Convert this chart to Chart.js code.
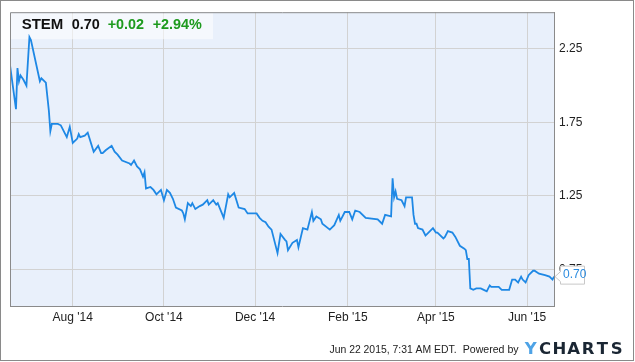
<!DOCTYPE html>
<html><head><meta charset="utf-8">
<style>html,body{margin:0;padding:0;background:#fff;overflow:hidden}canvas{display:block}</style>
<script src="https://cdn.jsdelivr.net/npm/chart.js@4.4.1/dist/chart.umd.min.js"></script>
</head><body>
<canvas id="c" width="635" height="362"></canvas>
<script>
// Calendar days since 2014-06-20
const tradeDays = [0,4,5,6,7,9,11,13,14,20,21,24,26,27,28,32,34,38,40,42,45,46,47,50,52,56,59,61,62,64,68,70,72,75,80,81,83,85,87,89,90,91,94,96,98,101,103,105,107,109,111,115,116,117,119,121,122,124,127,129,132,133,136,138,139,143,146,147,150,153,157,159,165,167,169,171,173,175,179,181,184,185,186,189,192,193,196,199,202,203,205,208,209,214,217,220,221,224,227,229,231,234,238,246,249,251,255,256,257,258,259,262,264,265,269,270,271,272,273,276,278,279,283,285,286,290,291,293,296,298,301,304,305,306,307,308,310,312,315,317,319,321,322,324,327,329,332,334,336,338,339,340,342,343,345,347,350,351,354,358,361,363,364];
const closePrices = [2.14,1.84,2.12,2.03,2.07,2.04,2.00,2.33,2.31,2.03,2.05,2.02,1.83,1.69,1.74,1.74,1.73,1.65,1.72,1.61,1.64,1.67,1.65,1.66,1.68,1.55,1.59,1.54,1.54,1.56,1.59,1.55,1.53,1.49,1.47,1.46,1.49,1.45,1.43,1.38,1.41,1.30,1.31,1.29,1.26,1.29,1.22,1.29,1.27,1.23,1.17,1.15,1.13,1.09,1.20,1.18,1.20,1.16,1.18,1.19,1.22,1.19,1.22,1.19,1.20,1.10,1.26,1.24,1.27,1.17,1.16,1.13,1.13,1.10,1.08,1.07,1.04,1.02,0.86,0.99,0.95,0.94,0.88,0.93,0.95,0.90,1.03,1.02,1.14,1.08,1.11,1.09,1.06,1.02,1.05,1.12,1.08,1.14,1.14,1.09,1.15,1.14,1.10,1.09,1.06,1.12,1.11,1.37,1.24,1.28,1.23,1.22,1.18,1.24,1.24,1.12,1.06,1.06,1.03,1.02,0.98,0.99,1.03,1.00,1.00,0.96,0.97,1.01,1.00,0.97,0.91,0.89,0.88,0.82,0.82,0.62,0.61,0.62,0.62,0.61,0.60,0.64,0.63,0.63,0.63,0.61,0.61,0.61,0.68,0.68,0.67,0.66,0.70,0.68,0.66,0.71,0.74,0.74,0.72,0.71,0.70,0.68,0.70];
const xTickDays = [42,103,164,226,285,346];
const xTickLabels = ["Aug '14","Oct '14","Dec '14","Feb '15","Apr '15","Jun '15"];
const yTickValues = [0.75,1.25,1.75,2.25];
const tickerName = 'STEM';
const lastPrice = '0.70';
const priceChange = '+0.02';
const pctChange = '+2.94%';
const footerDate = 'Jun 22 2015, 7:31 AM EDT.';
const footerPowered = 'Powered by';
const logoLetters = ['Y','C','H','A','R','T','S'];

const SANS = '"Liberation Sans", Arial, sans-serif';

const decor = {
  id: 'decor',
  beforeDraw(chart) {
    const {ctx, chartArea: a} = chart;
    ctx.save();
    ctx.fillStyle = '#fff';
    ctx.fillRect(0, 0, chart.width, chart.height);
    ctx.fillStyle = '#e9f0fb';
    ctx.fillRect(a.left, a.top, a.right - a.left, a.bottom - a.top);
    ctx.restore();
  },
  beforeDatasetsDraw(chart) {
    const {ctx, chartArea: a} = chart;
    ctx.save();
    ctx.fillStyle = 'rgba(255,255,255,0.55)';
    ctx.fillRect(a.left + 1, a.top + 1, 202, 26);
    ctx.textBaseline = 'alphabetic';
    ctx.textAlign = 'left';
    ctx.fillStyle = '#111';
    ctx.font = 'bold 15px ' + SANS;
    ctx.fillText(tickerName, 21.7, 29);
    ctx.font = 'bold 14.4px ' + SANS;
    ctx.fillText(lastPrice, 71.7, 29);
    ctx.fillStyle = '#1e9a1e';
    ctx.fillText(priceChange, 107.7, 29);
    ctx.fillText(pctChange, 152.7, 29);
    ctx.restore();
  },
  afterDraw(chart) {
    const {ctx, chartArea: a} = chart;
    ctx.save();
    // top & left plot border
    ctx.strokeStyle = '#8a8a8a';
    ctx.lineWidth = 1;
    ctx.beginPath();
    ctx.moveTo(a.left + 0.5, a.bottom);
    ctx.lineTo(a.left + 0.5, a.top + 0.5);
    ctx.lineTo(a.right + 0.5, a.top + 0.5);
    ctx.stroke();
    // callout for last value
    const yScale = chart.scales.y;
    const cy = yScale.getPixelForValue(closePrices[closePrices.length - 1]);
    ctx.beginPath();
    ctx.moveTo(560.5, cy - 10.5);
    ctx.lineTo(584.5, cy - 10.5);
    ctx.lineTo(584.5, cy + 7.5);
    ctx.lineTo(560.5, cy + 7.5);
    ctx.lineTo(560.5, cy + 5);
    ctx.lineTo(555, cy);
    ctx.lineTo(560.5, cy - 5);
    ctx.closePath();
    ctx.fillStyle = '#fff';
    ctx.fill();
    ctx.strokeStyle = '#c8c8c8';
    ctx.stroke();
    ctx.fillStyle = '#2a8be0';
    ctx.font = '12px ' + SANS;
    ctx.textBaseline = 'middle';
    ctx.textAlign = 'left';
    ctx.fillText(lastPrice, 563, cy - 1.5);
    // footer
    ctx.fillStyle = '#222';
    ctx.textBaseline = 'alphabetic';
    ctx.font = '10.4px ' + SANS;
    ctx.fillText(footerDate, 329.5, 353);
    ctx.font = '10.6px ' + SANS;
    ctx.fillText(footerPowered, 462.7, 353);
    // logo
    ctx.font = 'bold 16.5px "DejaVu Sans", sans-serif';
    ctx.textAlign = 'center';
    logoLetters.forEach((ch, i) => {
      ctx.fillStyle = i === 0 ? '#4ea3e6' : '#1a2633';
      ctx.fillText(ch, 530.8 + i * 14.3, 353.8);
    });
    // outer frame
    ctx.strokeStyle = '#8a8a8a';
    ctx.lineWidth = 1;
    ctx.strokeRect(0.5, 0.5, 633, 360);
    ctx.restore();
  }
};

new Chart(document.getElementById('c').getContext('2d'), {
  type: 'line',
  data: {
    datasets: [{
      data: tradeDays.map((d, i) => ({x: d, y: closePrices[i]})),
      borderColor: '#1e88e5',
      borderWidth: 1.8,
      pointRadius: 0,
      tension: 0,
      fill: false
    }]
  },
  options: {
    responsive: false,
    animation: false,
    devicePixelRatio: 1,
    layout: {padding: {left: 10, top: 10, right: 0, bottom: 0}},
    plugins: {legend: {display: false}, tooltip: {enabled: false}},
    scales: {
      x: {
        type: 'linear', position: 'bottom', min: 0, max: 364,
        afterBuildTicks: s => { s.ticks = xTickDays.map(v => ({value: v})); },
        afterFit: s => { s.height = 56; },
        grid: {color: '#d2d2d2', drawTicks: false, lineWidth: 1},
        border: {display: true, color: '#8a8a8a', width: 1},
        ticks: {
          autoSkip: false, maxRotation: 0, padding: 4, color: '#222',
          font: {family: SANS, size: 12},
          callback: (v, i) => xTickLabels[i]
        }
      },
      y: {
        type: 'linear', position: 'right', min: 0.5, max: 2.5,
        afterBuildTicks: s => { s.ticks = yTickValues.map(v => ({value: v})); },
        afterFit: s => { s.width = 81; },
        grid: {color: '#d2d2d2', drawTicks: false, lineWidth: 1},
        border: {display: true, color: '#8a8a8a', width: 1},
        ticks: {
          padding: 5, color: '#222',
          font: {family: SANS, size: 12},
          callback: v => Number(v).toFixed(2)
        }
      }
    }
  },
  plugins: [decor]
});
</script>
</body></html>
